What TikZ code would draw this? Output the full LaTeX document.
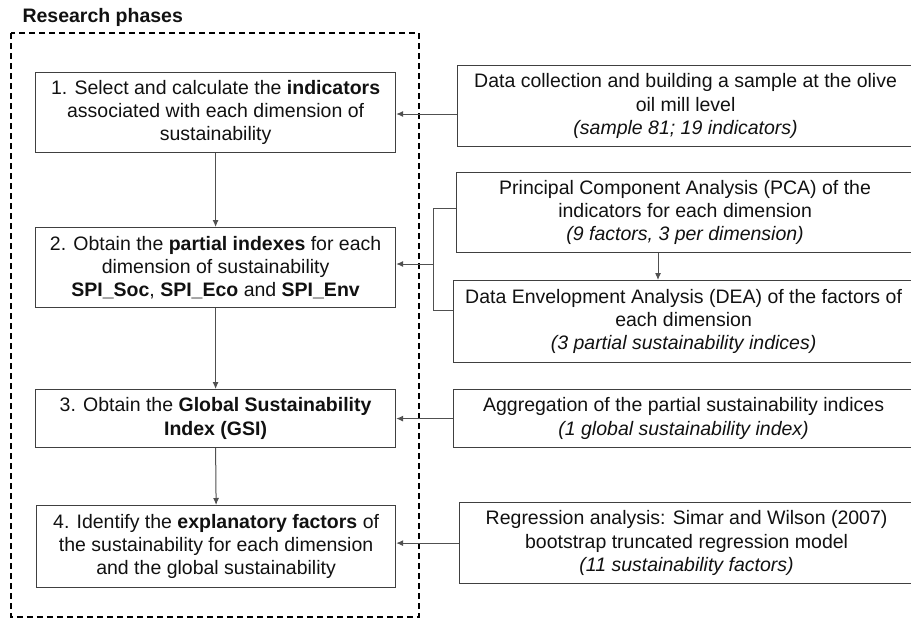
\documentclass[tikz,border=0pt]{standalone}
\usepackage{fontspec}
\setmainfont{Liberation Sans}
\usetikzlibrary{arrows.meta}
\definecolor{boxgray}{HTML}{404040}
\definecolor{linegray}{HTML}{505050}
\definecolor{txt}{HTML}{111111}
\begin{document}
\begin{tikzpicture}[x=1pt,y=-1pt,
  box/.style={draw=boxgray, line width=1.2pt, align=center, inner sep=0pt, anchor=north west,
    font=\fontsize{19.5}{23.3}\selectfont, text=txt},
  conn/.style={draw=linegray, line width=1pt},
  arr/.style={conn, -{Latex[length=7pt,width=6pt]}},
  dashbox/.style={draw=black, line width=1.6pt, dash pattern=on 6pt off 4pt}
]
\useasboundingbox (0,0) rectangle (911,619);
\node[anchor=west, font=\bfseries\fontsize{19.5}{23}\selectfont, text=txt] (title) at (19,17) {Research phases};
\draw[dashbox] (11,33) rectangle (419,617);

\node[box, minimum width=360pt, minimum height=80pt] (b1) at (35,72)
  {1. Select and calculate the \textbf{indicators}\\ associated with each dimension of\\ sustainability};
\node[box, minimum width=360pt, minimum height=80pt] (b2) at (35,227)
  {2. Obtain the \textbf{partial indexes} for each\\ dimension of sustainability\\ \textbf{SPI\_Soc}, \textbf{SPI\_Eco} and \textbf{SPI\_Env}};
\node[box, minimum width=360pt, minimum height=58pt] (b3) at (35,389)
  {3. Obtain the \textbf{Global Sustainability}\\ \textbf{Index (GSI)}};
\node[box, minimum width=359pt, minimum height=82pt] (b4) at (36,505)
  {4. Identify the \textbf{explanatory factors} of\\ the sustainability for each dimension\\ and the global sustainability};

\node[box, minimum width=456pt, minimum height=81pt] (r1) at (457,65)
  {Data collection and building a sample at the olive\\ oil mill level\\ \textit{(sample 81; 19 indicators)}};
\node[box, minimum width=457pt, minimum height=80pt] (r2) at (456,172)
  {Principal Component Analysis (PCA) of the\\ indicators for each dimension\\ \textit{(9 factors, 3 per dimension)}};
\node[box, minimum width=460pt, minimum height=82pt] (r3) at (453,280)
  {Data Envelopment Analysis (DEA) of the factors of\\ each dimension\\ \textit{(3 partial sustainability indices)}};
\node[box, minimum width=460pt, minimum height=58pt] (r4) at (453,389)
  {Aggregation of the partial sustainability indices\\ \textit{(1 global sustainability index)}};
\node[box, minimum width=454pt, minimum height=81pt] (r5) at (459,502)
  {Regression analysis: Simar and Wilson (2007)\\ bootstrap truncated regression model\\ \textit{(11 sustainability factors)}};

\draw[arr] (b1.south) -- (b2.north);
\draw[arr] (b2.south) -- (b3.north);
\draw[arr] (b3.south) -- (b4.north);

\coordinate (y1) at (0,114);
\draw[arr] (r1.west |- y1) -- (b1.east |- y1);

\coordinate (j1) at (433,208);
\coordinate (j2) at (433,310);
\coordinate (j3) at (433,264);
\draw[conn] (r2.west |- j1) -- (j1) -- (j2) -- (r3.west |- j2);
\draw[arr] (j3) -- (b2.east |- j3);

\coordinate (xm) at (658,0);
\draw[arr] (r2.south -| xm) -- (r3.north -| xm);

\draw[arr] (r4.west) -- (b3.east |- r4.west);
\draw[arr] (r5.west) -- (b4.east |- r5.west);
\end{tikzpicture}
\end{document}
